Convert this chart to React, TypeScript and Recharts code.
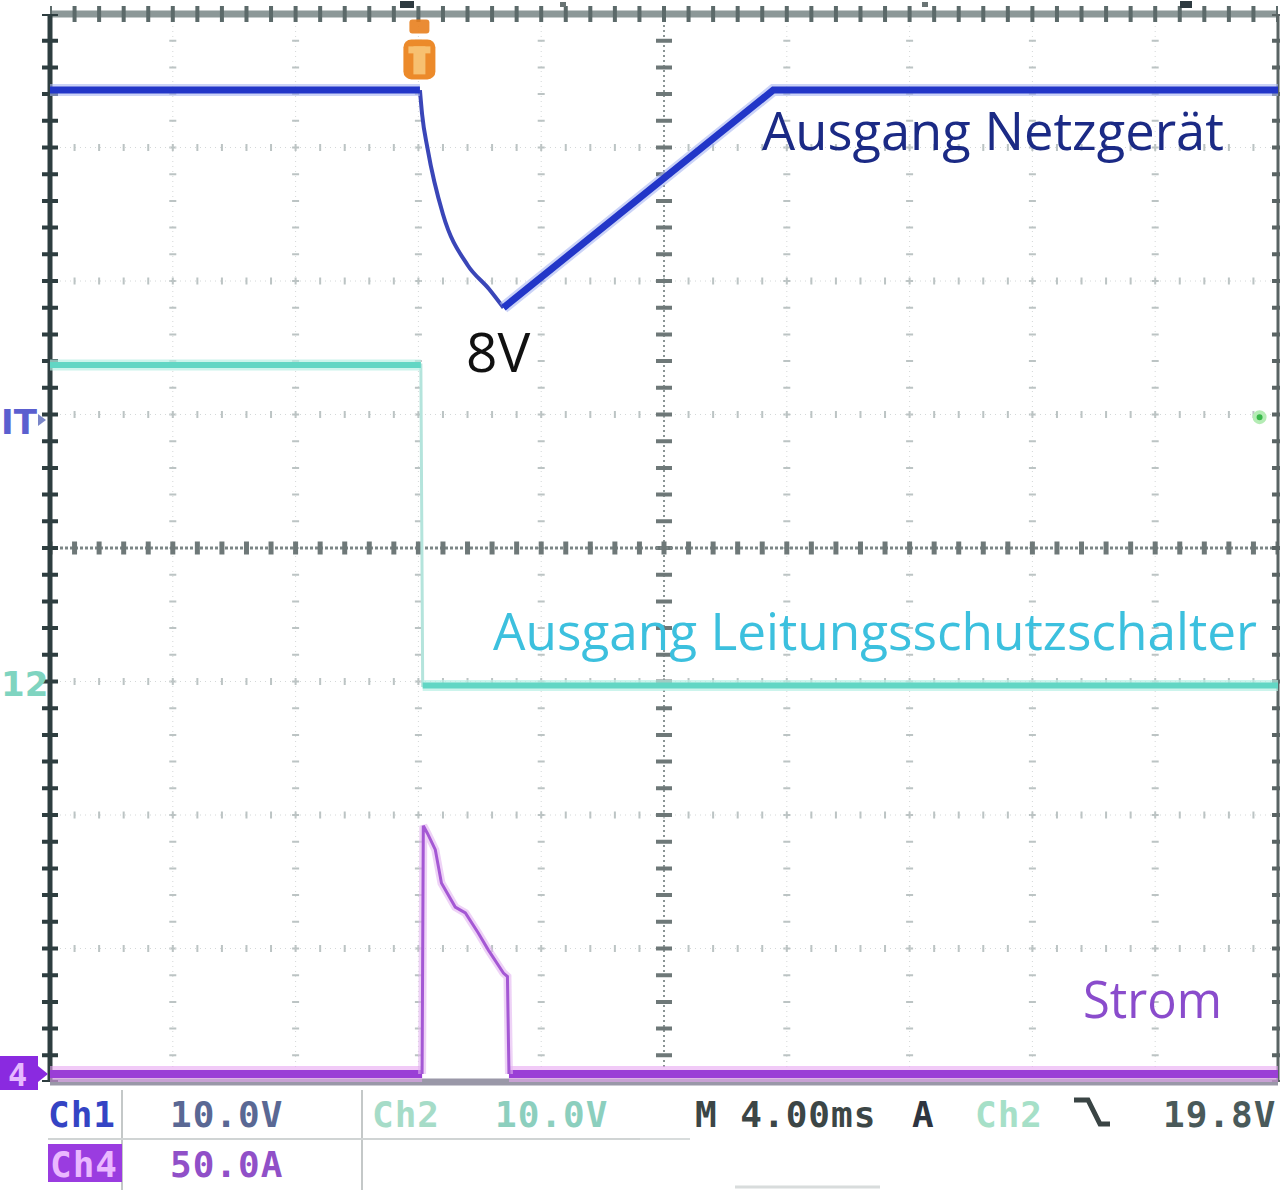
import React from 'react';
import { LineChart, Line, XAxis, YAxis, ReferenceLine, ReferenceDot } from 'recharts';

// Time base: 4 ms/div, trigger at t = 0
const timeTicks = [-12, -8, -4, 0, 4, 8, 12, 16, 20, 24, 28];
// Ch1 volts: 10 V/div
const ch1Ticks = [-50, -40, -30, -20, -10, 0, 10, 20, 30];

// Ch1: Ausgang Netzgerät (V)
const ch1Time = [-12, 0.05, 0.12, 0.3, 0.8, 1.6, 2.3, 2.77, 11.56, 28];
const ch1Volt = [24.3, 24.3, 22.5, 19.9, 15.0, 11.2, 9.4, 8.0, 24.3, 24.3];
const ch1FastEdge = [0.05, 2.77];

// Ch2: Ausgang Leitungsschutzschalter (V)
const ch2Time = [-12, 0.08, 0.14, 0.3, 28];
const ch2Volt = [23.7, 23.7, -0.3, -0.3, -0.3];
const ch2FastEdge = [0.08, 0.14];

// Ch4: Strom (A)
const ch4Time = [-12, 0.12, 0.16, 0.3, 0.55, 0.75, 1.2, 1.53, 1.95, 2.28, 2.77, 2.9, 2.95, 28];
const ch4Amp = [0, 0, 93, 90, 84, 71.5, 62.5, 60.3, 52.8, 46.4, 37.8, 36.5, 0, 0];
const ch4Pulse = [0.12, 2.95];

const triggerTime = 0;
const triggerLevel = 19.8;
const triggerMarkerTime = 27.4;

const statusRow1 = ['Ch1', '10.0V', 'Ch2', '10.0V', 'M 4.00ms', 'A', 'Ch2', '19.8V'];
const statusRow2 = ['Ch4', '50.0A'];

type P = { t: number; v: number | null };
const toData = (ts: number[], vs: number[]): P[] => ts.map((t, i) => ({ t, v: vs[i] }));
// keep only the points outside the window, with a break inside it
const outside = (ts: number[], vs: number[], win: number[]): P[] => {
  const pts: P[] = ts.map((t, i) => ({ t, v: t > win[0] && t < win[1] ? null : vs[i] }));
  pts.push({ t: (win[0] + win[1]) / 2, v: null });
  return pts.sort((a, b) => a.t - b.t);
};
const inside = (ts: number[], vs: number[], win: number[]): P[] =>
  ts.map((t, i) => ({ t, v: t >= win[0] && t <= win[1] ? vs[i] : null }));

const ch1Edge = inside(ch1Time, ch1Volt, ch1FastEdge);
const ch1Thick = outside(ch1Time, ch1Volt, ch1FastEdge);
const ch2All = toData(ch2Time, ch2Volt);
const ch2Thick = outside(ch2Time, ch2Volt, ch2FastEdge);
const ch4Base = outside(ch4Time, ch4Amp, ch4Pulse);
const ch4Peak = inside(ch4Time, ch4Amp, ch4Pulse);

const W = 1280;
const H = 1190;
const M = { top: 14, right: 2, bottom: 108, left: 50 };
const hStep = (W - M.left - M.right) / 50; // minor tick spacing along x
const vStep = (H - M.top - M.bottom) / 40; // minor tick spacing along y

const innerT = timeTicks.filter((t) => t !== -12 && t !== 28 && t !== 8);
const innerV = ch1Ticks.filter((v) => v !== -50 && v !== 30 && v !== -10);

const TriggerShape = (p: any) => {
  const { cx, cy } = p;
  return (
    <g>
      <rect x={cx - 9} y={cy - 32} width={20} height={14} rx={3} fill="#e8801e" opacity={0.9} />
      <rect x={cx - 15} y={cy - 12} width={32} height={40} rx={8} fill="#ec8a2a" />
      <rect x={cx - 5} y={cy - 5} width={12} height={28} fill="#f7c070" />
      <rect x={cx - 10} y={cy - 5} width={22} height={7} fill="#f7c070" />
    </g>
  );
};

const mono = '"DejaVu Sans Mono", monospace';
const sans = '"Open Sans", "Noto Sans", sans-serif';

export default function App() {
  return (
    <div style={{ position: 'absolute', left: 0, top: 0, width: W, height: H, overflow: 'hidden', background: '#ffffff' }}>
      <LineChart width={W} height={H} margin={M}>
        <XAxis dataKey="t" type="number" domain={[-12, 28]} ticks={timeTicks} allowDataOverflow hide />
        <YAxis yAxisId="v1" type="number" domain={[-50, 30]} ticks={ch1Ticks} allowDataOverflow hide />
        <YAxis yAxisId="v2" type="number" domain={[-30, 50]} allowDataOverflow hide />
        <YAxis yAxisId="a4" type="number" domain={[-3, 397]} allowDataOverflow hide />

        {/* division grid: faint dots + minor tick marks */}
        {innerT.map((t) => (
          <ReferenceLine key={'gtd' + t} x={t} yAxisId="v1" stroke="#d4d8d8" strokeWidth={1} strokeDasharray="1 4" />
        ))}
        {innerT.map((t) => (
          <ReferenceLine key={'gtt' + t} x={t} yAxisId="v1" stroke="#bcc4c4" strokeWidth={7} strokeDasharray={`2 ${vStep - 2}`} strokeDashoffset={1} />
        ))}
        {innerV.map((v) => (
          <ReferenceLine key={'gvd' + v} y={v} yAxisId="v1" stroke="#d4d8d8" strokeWidth={1} strokeDasharray="1 4" />
        ))}
        {innerV.map((v) => (
          <ReferenceLine key={'gvt' + v} y={v} yAxisId="v1" stroke="#bcc4c4" strokeWidth={7} strokeDasharray={`2 ${hStep - 2}`} strokeDashoffset={1} />
        ))}

        {/* center axes */}
        <ReferenceLine x={8} yAxisId="v1" stroke="#8a9494" strokeWidth={2} strokeDasharray="2 3" />
        <ReferenceLine x={8} yAxisId="v1" stroke="#6e7878" strokeWidth={16} strokeDasharray={`4 ${vStep - 4}`} strokeDashoffset={2} />
        <ReferenceLine y={-10} yAxisId="v1" stroke="#7c8686" strokeWidth={3} strokeDasharray="3 2" />
        <ReferenceLine y={-10} yAxisId="v1" stroke="#6e7878" strokeWidth={13} strokeDasharray={`5 ${hStep - 5}`} strokeDashoffset={2.5} />

        {/* borders */}
        <ReferenceLine y={30} yAxisId="v1" stroke="#8c9898" strokeWidth={7} />
        <ReferenceLine y={30} yAxisId="v1" stroke="#5c6a6a" strokeWidth={16} strokeDasharray={`4 ${hStep - 4}`} strokeDashoffset={2} />
        <ReferenceLine y={-50} yAxisId="v1" stroke="#9a98a8" strokeWidth={7} />
        <ReferenceLine x={28} yAxisId="v1" stroke="#5a6464" strokeWidth={3} />
        <ReferenceLine x={28} yAxisId="v1" stroke="#5a6464" strokeWidth={12} strokeDasharray={`4 ${vStep - 4}`} strokeDashoffset={2} />
        <ReferenceLine x={-12} yAxisId="v1" stroke="#2e3e40" strokeWidth={5} />
        <ReferenceLine x={-12} yAxisId="v1" stroke="#2e3e40" strokeWidth={16} strokeDasharray={`4 ${vStep - 4}`} strokeDashoffset={2} />

        {/* Ch4 current */}
        <Line data={ch4Base} dataKey="v" yAxisId="a4" type="linear" stroke="#e7a6f2" strokeWidth={16} strokeOpacity={0.6} dot={false} activeDot={false} isAnimationActive={false} />
        <Line data={ch4Base} dataKey="v" yAxisId="a4" type="linear" stroke="#9a3ed6" strokeWidth={8} dot={false} activeDot={false} isAnimationActive={false} />
        <Line data={ch4Peak} dataKey="v" yAxisId="a4" type="linear" stroke="#e3b4f0" strokeWidth={8} strokeOpacity={0.6} dot={false} activeDot={false} isAnimationActive={false} />
        <Line data={ch4Peak} dataKey="v" yAxisId="a4" type="linear" stroke="#a458d4" strokeWidth={3} dot={false} activeDot={false} isAnimationActive={false} />

        {/* Ch2 */}
        <Line data={ch2All} dataKey="v" yAxisId="v2" type="linear" stroke="#b4e4dc" strokeWidth={3} dot={false} activeDot={false} isAnimationActive={false} />
        <Line data={ch2Thick} dataKey="v" yAxisId="v2" type="linear" stroke="#b6f0e4" strokeWidth={11} strokeOpacity={0.7} dot={false} activeDot={false} isAnimationActive={false} />
        <Line data={ch2Thick} dataKey="v" yAxisId="v2" type="linear" stroke="#62d6c4" strokeWidth={6} dot={false} activeDot={false} isAnimationActive={false} />

        {/* Ch1 */}
        <Line data={ch1Edge} dataKey="v" yAxisId="v1" type="monotone" stroke="#3a46b8" strokeWidth={4} dot={false} activeDot={false} isAnimationActive={false} />
        <Line data={ch1Thick} dataKey="v" yAxisId="v1" type="linear" stroke="#a9b6f2" strokeWidth={12} strokeOpacity={0.6} dot={false} activeDot={false} isAnimationActive={false} />
        <Line data={ch1Thick} dataKey="v" yAxisId="v1" type="linear" stroke="#2236c8" strokeWidth={7} dot={false} activeDot={false} isAnimationActive={false} />

        {/* markers */}
        <ReferenceDot x={triggerTime} y={27.2} yAxisId="v1" shape={TriggerShape} ifOverflow="visible" />
        <ReferenceDot x={triggerMarkerTime} y={triggerLevel} yAxisId="v2" r={5} fill="#38b84a" stroke="#b4ecb4" strokeWidth={4} ifOverflow="visible" />
      </LineChart>

      <svg width={W} height={H} style={{ position: 'absolute', left: 0, top: 0, pointerEvents: 'none' }}>
        {/* annotations */}
        <text x={762} y={150} fontFamily={sans} fontSize={53} fill="#1b2a85" textLength={462} lengthAdjust="spacingAndGlyphs">Ausgang Netzgerät</text>
        <text x={466} y={372} fontFamily={sans} fontSize={55} fill="#111111">8V</text>
        <text x={493} y={650} fontFamily={sans} fontSize={52} fill="#3cc0de" textLength={764} lengthAdjust="spacingAndGlyphs">Ausgang Leitungsschutzschalter</text>
        <text x={1083} y={1018} fontFamily={sans} fontSize={52} fill="#8a4ccc" textLength={139} lengthAdjust="spacingAndGlyphs">Strom</text>

        {/* left channel markers */}
        <text x={1} y={434} fontFamily={'"DejaVu Sans", sans-serif'} fontWeight="bold" fontSize={34} fill="#5b5fcf">IT</text>
        <polygon points="38,414 46,420 38,426" fill="#7a86c8" />
        <text x={1} y={696} fontFamily={'"DejaVu Sans", sans-serif'} fontWeight="bold" fontSize={34} fill="#7fd4c0">12</text>
        <rect x={0} y={1056} width={38} height={34} fill="#8a2ae0" />
        <text x={8} y={1086} fontFamily={mono} fontWeight="bold" fontSize={32} fill="#e6b8ff">4</text>
        <polygon points="38,1066 48,1074 38,1082" fill="#8a2ae0" />

        {/* top cursor marks */}
        <rect x={400} y={1} width={14} height={7} fill="#2e3a40" />
        <rect x={560} y={2} width={6} height={5} fill="#6a7474" />
        <rect x={922} y={2} width={6} height={5} fill="#6a7474" />
        <rect x={1180} y={1} width={12} height={7} fill="#2e3a40" />

        {/* status box lines */}
        <line x1={122} y1={1090} x2={122} y2={1190} stroke="#c4c8c8" strokeWidth={2} />
        <line x1={362} y1={1090} x2={362} y2={1190} stroke="#c4c8c8" strokeWidth={2} />
        <line x1={48} y1={1139} x2={640} y2={1139} stroke="#d0d4d4" strokeWidth={2} />
        <line x1={640} y1={1139} x2={690} y2={1139} stroke="#d8dcdc" strokeWidth={2} />
        <line x1={735} y1={1187} x2={880} y2={1187} stroke="#d8dcdc" strokeWidth={3} />

        {/* status row 1 */}
        <g fontFamily={mono} fontWeight="bold" fontSize={36} letterSpacing={1}>
          <text x={48} y={1127} fill="#3444c4">{statusRow1[0]}</text>
          <text x={170} y={1127} fill="#5a6894">{statusRow1[1]}</text>
          <text x={372} y={1127} fill="#a6dcc8">{statusRow1[2]}</text>
          <text x={495} y={1127} fill="#8ccfbe">{statusRow1[3]}</text>
          <text x={695} y={1127} fill="#3c4646">{statusRow1[4]}</text>
          <text x={912} y={1127} fill="#2e3440">{statusRow1[5]}</text>
          <text x={975} y={1127} fill="#a6e0c8">{statusRow1[6]}</text>
          <text x={1163} y={1127} fill="#4a5a5a">{statusRow1[7]}</text>
          {/* status row 2 */}
          <rect x={48} y={1144} width={74} height={38} fill="#9a3ce0" />
          <text x={50} y={1177} fill="#eab8ff">{statusRow2[0]}</text>
          <text x={170} y={1177} fill="#9050c8">{statusRow2[1]}</text>
        </g>
        <polyline points="1074,1100 1088,1100 1100,1124 1110,1124" fill="none" stroke="#3a4444" strokeWidth={5} />
      </svg>
    </div>
  );
}
